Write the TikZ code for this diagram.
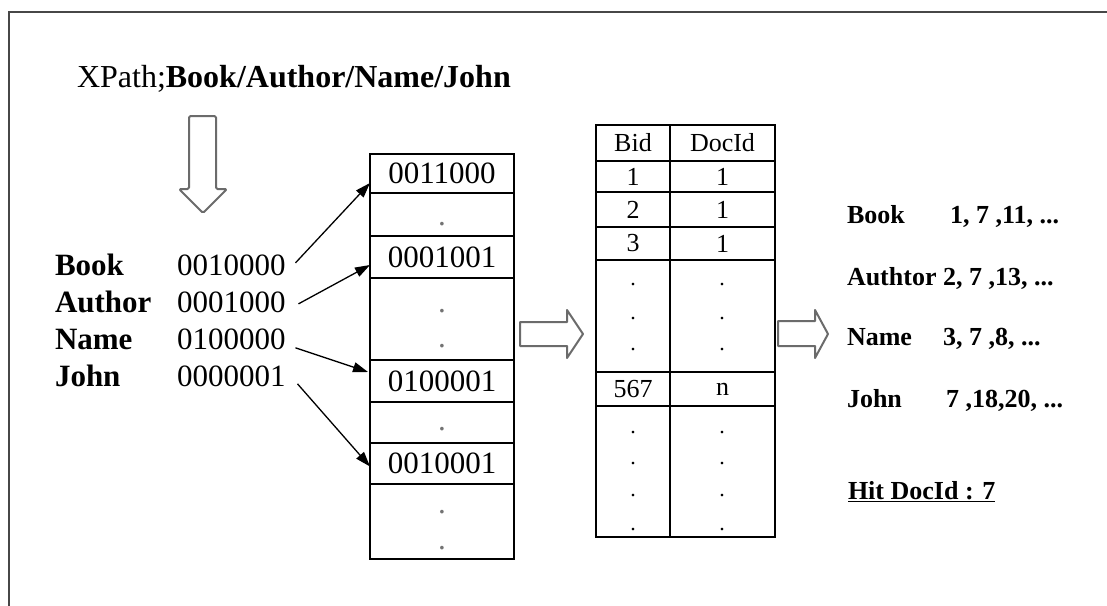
\documentclass[tikz,border=0pt]{standalone}
\usepackage{fontspec}
\setmainfont{Liberation Serif}
\usetikzlibrary{arrows.meta,calc}

\tikzset{
  every node/.style={inner sep=0pt, outer sep=0pt},
  bigfont/.style={font=\fontsize{31}{36}\selectfont},
  titlefont/.style={font=\fontsize{32}{38}\selectfont},
  midfont/.style={font=\fontsize{26}{30}\selectfont},
  boldmid/.style={font=\fontsize{26}{30}\selectfont\bfseries},
  label/.style={bigfont, font=\fontsize{31}{36}\selectfont\bfseries, anchor=base west},
  bits/.style={bigfont, anchor=base west},
  bitcell/.style={draw, line width=1.4pt, minimum width=144pt, bigfont},
  tcell/.style={draw, line width=1.4pt, midfont},
  dotmark/.style={anchor=base, bigfont, text=black!55},
  tdot/.style={anchor=base, font=\fontsize{22}{26}\selectfont},
  link/.style={line width=1.3pt, -{Triangle[length=15pt,width=10pt]}},
  hollow/.style={draw=black!58, line width=2pt, fill=white, line join=round},
  framecol/.style={draw=black!72, line width=2.2pt},
}

\begin{document}
\begin{tikzpicture}[x=1pt,y=-1pt]
\useasboundingbox (0,0) rectangle (1107,605);

% outer frame (only top and left edges fall inside the page)
\draw[framecol] (9,620) -- (9,12) -- (1120,12);

% query
\node[titlefont, anchor=base west] (query) at (77,87) {XPath;\textbf{Book/Author/Name/John}};

% hollow arrow from the query down to the bit strings
\draw[hollow, rounded corners=1.5pt] (189,116) -- (216,116) -- (216,189) -- (227,189)
  -- (203,213) -- (179,189) -- (189,189) -- cycle;

% path steps and their bit strings
\node[label] (lbook) at (55,275) {Book};
\node[label] (lauth) at (55,312) {Author};
\node[label] (lname) at (55,349) {Name};
\node[label] (ljohn) at (55,386) {John};
\node[bits] (dbook) at (177,275) {0010000};
\node[bits] (dauth) at (177,312) {0001000};
\node[bits] (dname) at (177,349) {0100000};
\node[bits] (djohn) at (177,386) {0000001};

% bit-string index column
\node[bitcell, minimum height=39pt] (c1) at (442,173.5) {0011000};
\node[bitcell, minimum height=43pt] (c2) at (442,214.5) {};
\node[bitcell, minimum height=42pt] (c3) at (442,257) {0001001};
\node[bitcell, minimum height=82pt] (c4) at (442,319) {};
\node[bitcell, minimum height=42pt] (c5) at (442,381) {0100001};
\node[bitcell, minimum height=41pt] (c6) at (442,422.5) {};
\node[bitcell, minimum height=41pt] (c7) at (442,463.5) {0010001};
\node[bitcell, minimum height=75pt] (c8) at (442,521.5) {};
\node[dotmark] (p1) at (442,225) {.};
\node[dotmark] (p2) at (442,312) {.};
\node[dotmark] (p3) at (442,347) {.};
\node[dotmark] (p4) at (442,430) {.};
\node[dotmark] (p5) at (442,513) {.};
\node[dotmark] (p6) at (442,549) {.};

% bit strings pointing into the index column
\draw[link] ([xshift=10pt,yshift=2pt]dbook.east) -- ([yshift=10pt]c1.south west);
\draw[link] ([xshift=13pt,yshift=-2pt]dauth.east) -- ([yshift=-8pt]c3.west);
\draw[link] ([xshift=10pt,yshift=-9pt]dname.east) -- ([xshift=-2pt,yshift=9pt]c5.west);
\draw[link] ([xshift=12pt,yshift=-8pt]djohn.east) -- ([yshift=-3pt]c7.west);

% hollow arrow to the Bid/DocId table
\draw[hollow] (520,322) -- (567,322) -- (567,310) -- (583,334) -- (567,358)
  -- (567,346) -- (520,346) -- cycle;

% Bid / DocId table
\node[tcell, minimum width=74pt,  minimum height=36pt]  (h1) at (633,143) {Bid};
\node[tcell, minimum width=105pt, minimum height=36pt]  (h2) at (722.5,143) {DocId};
\node[tcell, minimum width=74pt,  minimum height=31pt]  (r1a) at (633,176.5) {1};
\node[tcell, minimum width=105pt, minimum height=31pt]  (r1b) at (722.5,176.5) {1};
\node[tcell, minimum width=74pt,  minimum height=35pt]  (r2a) at (633,209.5) {2};
\node[tcell, minimum width=105pt, minimum height=35pt]  (r2b) at (722.5,209.5) {1};
\node[tcell, minimum width=74pt,  minimum height=33pt]  (r3a) at (633,243.5) {3};
\node[tcell, minimum width=105pt, minimum height=33pt]  (r3b) at (722.5,243.5) {1};
\node[tcell, minimum width=74pt,  minimum height=112pt] (r4a) at (633,316) {};
\node[tcell, minimum width=105pt, minimum height=112pt] (r4b) at (722.5,316) {};
\node[tcell, minimum width=74pt,  minimum height=34pt]  (r5a) at (633,389) {567};
\node[tcell, minimum width=105pt, minimum height=34pt]  (r5b) at (722.5,389) {n};
\node[tcell, minimum width=74pt,  minimum height=131pt] (r6a) at (633,471.5) {};
\node[tcell, minimum width=105pt, minimum height=131pt] (r6b) at (722.5,471.5) {};
\foreach \y [count=\i] in {285,319,350} {
  \node[tdot] (ua\i) at (633,\y) {.};
  \node[tdot] (ub\i) at (722,\y) {.};
}
\foreach \y [count=\i] in {433,464,496,530} {
  \node[tdot] (la\i) at (633,\y) {.};
  \node[tdot] (lb\i) at (722,\y) {.};
}

% hollow arrow to the posting lists
\draw[hollow] (778,321) -- (815,321) -- (815,310) -- (828,334) -- (815,358)
  -- (815,346) -- (778,346) -- cycle;

% posting lists per step
\node[boldmid, anchor=base west] (pbook) at (847,223) {Book};
\node[boldmid, anchor=base west] (pauth) at (847,285) {Authtor};
\node[boldmid, anchor=base west] (pname) at (847,345) {Name};
\node[boldmid, anchor=base west] (pjohn) at (847,407) {John};
\node[boldmid, anchor=base west] (vbook) at (950,223) {1, 7 ,11, ...};
\node[boldmid, anchor=base west] (vauth) at (943,285) {2, 7 ,13, ...};
\node[boldmid, anchor=base west] (vname) at (943,345) {3, 7 ,8, ...};
\node[boldmid, anchor=base west] (vjohn) at (946,407) {7 ,18,20, ...};

% result
\node[boldmid, anchor=base west] (hit) at (848,499) {\underline{Hit DocId : 7}};
\end{tikzpicture}
\end{document}
